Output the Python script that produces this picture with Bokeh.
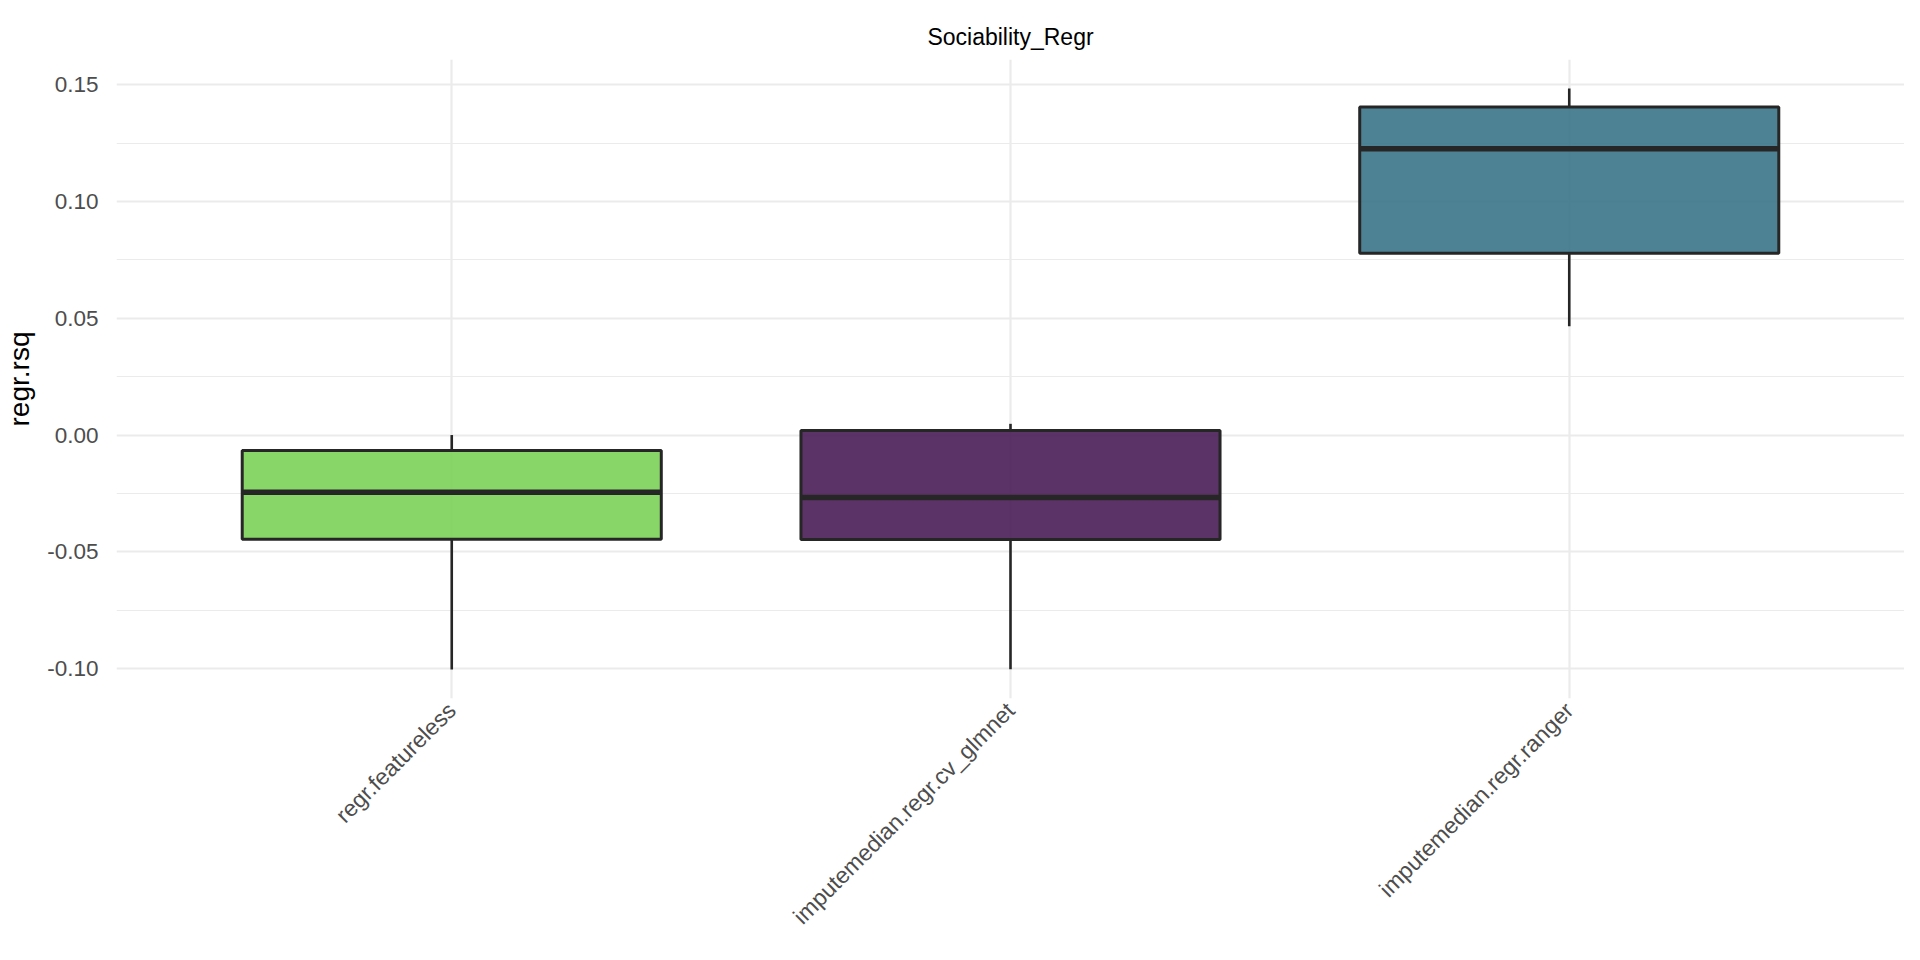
import math
from bokeh.plotting import figure
from bokeh.models import Range1d, FixedTicker, PrintfTickFormatter
from bokeh.embed import file_html
from bokeh.resources import INLINE

# ---- data ----
learners = ["regr.featureless", "imputemedian.regr.cv_glmnet", "imputemedian.regr.ranger"]
whisker_low = [-0.1004, -0.1003, 0.0466]
q1 = [-0.0446, -0.0447, 0.0779]
median = [-0.0245, -0.0267, 0.1226]
q3 = [-0.0066, 0.0019, 0.1405]
whisker_high = [0.0000, 0.0048, 0.1484]
fill_colors = ["#7BD157", "#4A1D56", "#3A7488"]
y_ticks = [-0.10, -0.05, 0.00, 0.05, 0.10, 0.15]
y_minor_ticks = [-0.075, -0.025, 0.025, 0.075, 0.125]
title_text = "Sociability_Regr"
y_label = "regr.rsq"

# ---- derived ----
xs = list(range(1, len(learners) + 1))
box_w = 0.75
lo = min(whisker_low)
hi = max(whisker_high)
pad = 0.05 * (hi - lo)

FONT = "Liberation Sans"
DARK = "#262626"
GRID = "#EBEBEB"

p = figure(width=1904, height=944,
           x_range=Range1d(0.4, len(learners) + 0.6),
           y_range=Range1d(lo - pad, hi + pad),
           output_backend="svg", toolbar_location=None,
           min_border_left=116, min_border_right=0,
           min_border_top=59, min_border_bottom=246)

p.background_fill_color = "white"
p.border_fill_color = "white"
p.outline_line_color = None

p.title.text = title_text
p.title.align = "center"
p.title.standoff = 19
p.title.text_font = FONT
p.title.text_font_size = "23px"
p.title.text_font_style = "normal"
p.title.text_color = "#000000"

# axes
p.xaxis.ticker = FixedTicker(ticks=xs)
p.xaxis.major_label_overrides = {x: name for x, name in zip(xs, learners)}
p.xaxis.major_label_orientation = math.pi / 4
p.xaxis.major_label_standoff = 8

p.yaxis.ticker = FixedTicker(ticks=y_ticks, minor_ticks=y_minor_ticks)
p.yaxis.formatter = PrintfTickFormatter(format="%.2f")
p.yaxis.major_label_standoff = 18
p.yaxis.axis_label = y_label
p.yaxis.axis_label_standoff = 9
p.yaxis.axis_label_text_font = FONT
p.yaxis.axis_label_text_font_size = "28px"
p.yaxis.axis_label_text_font_style = "normal"
p.yaxis.axis_label_text_color = "#000000"

for ax in (p.xaxis[0], p.yaxis[0]):
    ax.axis_line_color = None
    ax.major_tick_line_color = None
    ax.minor_tick_line_color = None
    ax.major_tick_out = 0
    ax.major_tick_in = 0
    ax.minor_tick_out = 0
    ax.minor_tick_in = 0
    ax.major_label_text_font = FONT
    ax.major_label_text_color = "#4D4D4D"

p.xaxis.major_label_text_font_size = "23px"
p.yaxis.major_label_text_font_size = "22.5px"

# grids
p.xgrid.ticker = FixedTicker(ticks=xs)
p.xgrid.grid_line_color = GRID
p.xgrid.grid_line_width = 2.2
p.ygrid.grid_line_color = GRID
p.ygrid.grid_line_width = 2.2
p.ygrid.minor_grid_line_color = GRID
p.ygrid.minor_grid_line_width = 1.1

# whiskers
p.segment(x0=xs, y0=q3, x1=xs, y1=whisker_high, line_color=DARK, line_width=2.6)
p.segment(x0=xs, y0=q1, x1=xs, y1=whisker_low, line_color=DARK, line_width=2.6)

# boxes
p.vbar(x=xs, width=box_w, bottom=q1, top=q3,
       fill_color=fill_colors, fill_alpha=0.9,
       line_color=DARK, line_width=3.0)

# medians
p.segment(x0=[x - box_w / 2 for x in xs], y0=median,
          x1=[x + box_w / 2 for x in xs], y1=median,
          line_color=DARK, line_width=5.5)

open("out.html", "w").write(file_html(p, INLINE))
